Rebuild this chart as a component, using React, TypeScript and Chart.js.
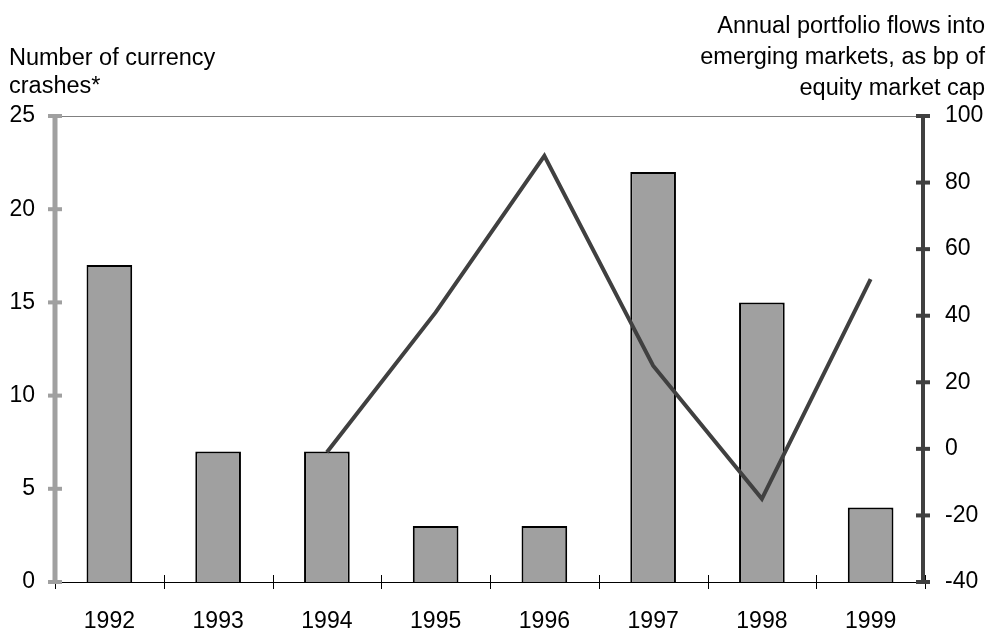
import React, { useEffect, useRef } from "react";
import { Chart, registerables } from "chart.js";

Chart.register(...registerables);

const years = ["1992", "1993", "1994", "1995", "1996", "1997", "1998", "1999"];
const crashes = [17, 7, 7, 3, 3, 22, 15, 4];
const flows = [null, null, -1, 41, 88, 25, -15, 51];
const leftTitle = ["Number of currency", "crashes*"];
const rightTitle = ["Annual portfolio flows into", "emerging markets, as bp of", "equity market cap"];

const FONT = "'Liberation Sans', Arial, sans-serif";

const decorPlugin = {
  id: "decor",
  afterDraw(chart: any) {
    const { ctx, chartArea } = chart;
    const { left, right, top, bottom } = chartArea;
    const xs = chart.scales.x;
    const yl = chart.scales.y;
    const yr = chart.scales.y1;
    ctx.save();
    // top border
    ctx.strokeStyle = "#808080";
    ctx.lineWidth = 1;
    ctx.beginPath();
    ctx.moveTo(left, top + 0.5);
    ctx.lineTo(right, top + 0.5);
    ctx.stroke();
    // bottom axis
    ctx.strokeStyle = "#000";
    ctx.lineWidth = 1;
    ctx.beginPath();
    ctx.moveTo(left, bottom + 0.5);
    ctx.lineTo(right, bottom + 0.5);
    ctx.stroke();
    const n = years.length;
    for (let i = 0; i <= n; i++) {
      let x;
      if (i === 0) x = left;
      else if (i === n) x = right;
      else x = (xs.getPixelForValue(i - 1) + xs.getPixelForValue(i)) / 2;
      x = Math.round(x) + 0.5;
      ctx.beginPath();
      ctx.moveTo(x, bottom - 7);
      ctx.lineTo(x, bottom + 7);
      ctx.stroke();
    }
    // left axis
    ctx.strokeStyle = "#a0a0a0";
    ctx.lineWidth = 5;
    ctx.beginPath();
    ctx.moveTo(left, top);
    ctx.lineTo(left, bottom);
    ctx.stroke();
    ctx.lineWidth = 4;
    yl.ticks.forEach((t: any) => {
      const y = yl.getPixelForValue(t.value);
      ctx.beginPath();
      ctx.moveTo(left - 7, y);
      ctx.lineTo(left + 7, y);
      ctx.stroke();
    });
    // right axis
    ctx.strokeStyle = "#404040";
    ctx.lineWidth = 4;
    ctx.beginPath();
    ctx.moveTo(right - 2, top);
    ctx.lineTo(right - 2, bottom);
    ctx.stroke();
    yr.ticks.forEach((t: any) => {
      const y = yr.getPixelForValue(t.value);
      ctx.beginPath();
      ctx.moveTo(right - 9, y);
      ctx.lineTo(right + 5, y);
      ctx.stroke();
    });
    // titles
    ctx.fillStyle = "#000";
    ctx.font = `23.5px ${FONT}`;
    ctx.textBaseline = "alphabetic";
    ctx.textAlign = "left";
    leftTitle.forEach((s, i) => ctx.fillText(s, 9, 65 + i * 28));
    ctx.textAlign = "right";
    rightTitle.forEach((s, i) => ctx.fillText(s, 985, 33 + i * 31));
    ctx.restore();
  },
};

export default function App() {
  const ref = useRef<HTMLCanvasElement>(null);
  useEffect(() => {
    const chart = new Chart(ref.current!, {
      type: "bar",
      data: {
        labels: years,
        datasets: [
          {
            type: "line",
            data: flows as any,
            yAxisID: "y1",
            borderColor: "#404040",
            borderWidth: 4,
            pointRadius: 0,
            tension: 0,
            order: 0,
            spanGaps: false,
          },
          {
            type: "bar",
            data: crashes,
            yAxisID: "y",
            backgroundColor: "#a0a0a0",
            borderColor: "#000",
            borderWidth: 2,
            categoryPercentage: 1,
            barPercentage: 0.42,
            order: 1,
          },
        ],
      },
      options: {
        responsive: false,
        animation: false,
        devicePixelRatio: 1,
        layout: { padding: { top: 116, left: 0, right: 0, bottom: 0 } },
        plugins: { legend: { display: false }, tooltip: { enabled: false } },
        scales: {
          x: {
            offset: true,
            grid: { display: false, drawTicks: false },
            border: { display: false },
            ticks: { color: "#000", font: { family: FONT, size: 23 }, padding: 26, maxRotation: 0 },
            afterFit: (s: any) => { s.height = 48; },
          },
          y: {
            position: "left",
            min: 0,
            max: 25,
            ticks: { stepSize: 5, color: "#000", font: { family: FONT, size: 23 }, padding: 20 },
            grid: { display: false, drawTicks: false },
            border: { display: false },
            afterFit: (s: any) => { s.width = 55; },
          },
          y1: {
            position: "right",
            min: -40,
            max: 100,
            ticks: { stepSize: 20, color: "#000", font: { family: FONT, size: 23 }, padding: 20 },
            grid: { display: false, drawTicks: false },
            border: { display: false },
            afterFit: (s: any) => { s.width = 62; },
          },
        },
      },
      plugins: [decorPlugin],
    });
    return () => chart.destroy();
  }, []);
  return (
    <div style={{ position: "absolute", left: 0, top: 0, width: 987, height: 630, background: "#fff" }}>
      <canvas ref={ref} width={987} height={630} />
    </div>
  );
}
